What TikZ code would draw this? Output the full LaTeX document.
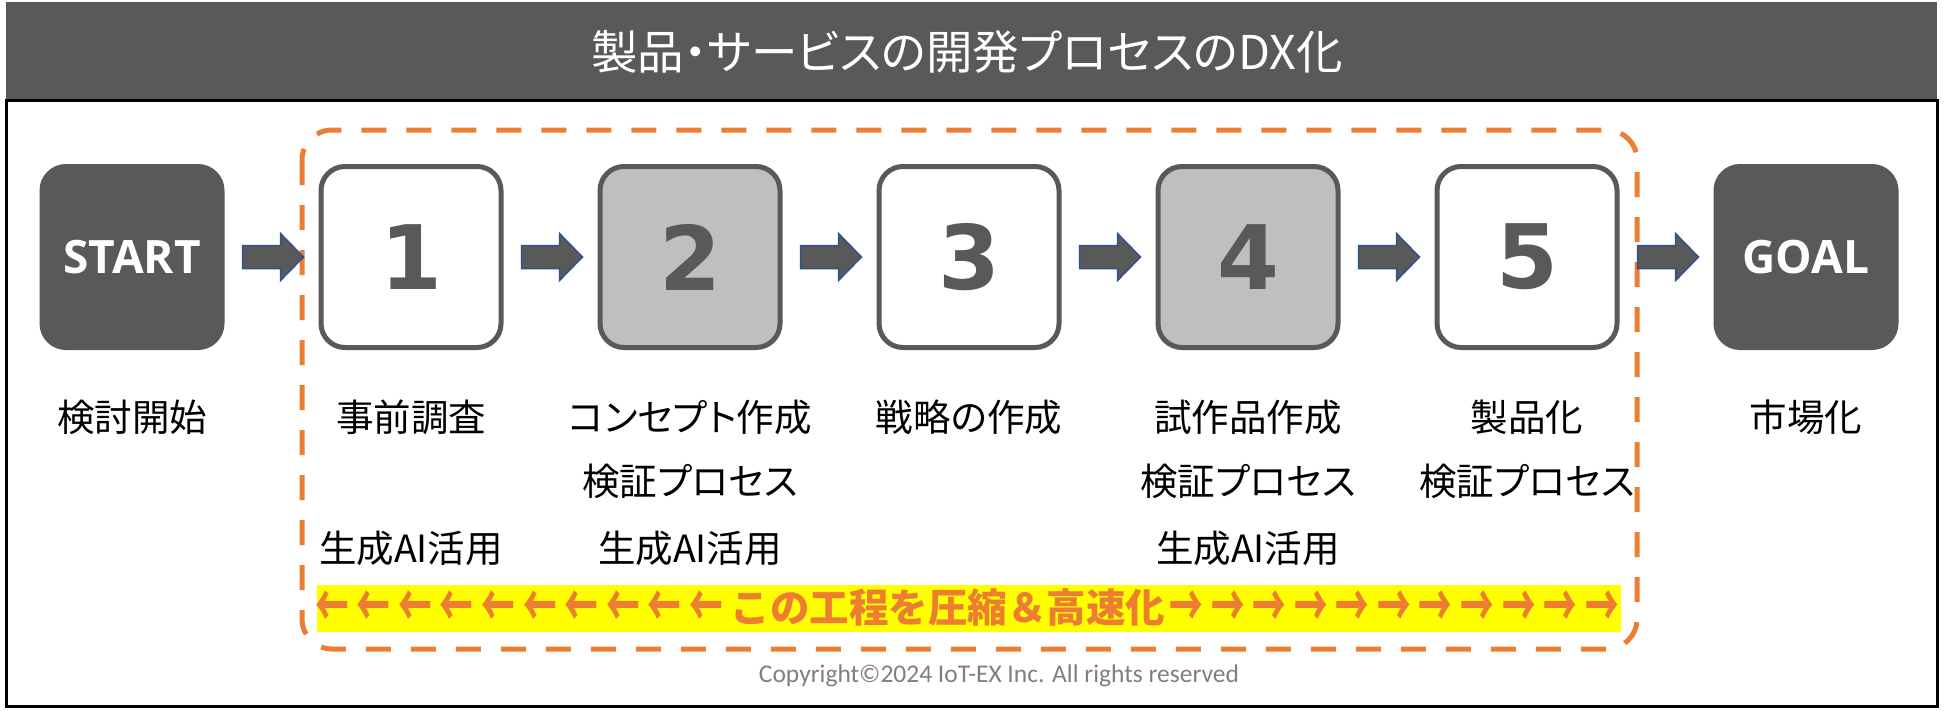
\documentclass[tikz,border=0pt]{standalone}
\usepackage{fontspec}
\usepackage{graphicx}
\setmainfont{Noto Sans CJK JP}
\newfontfamily\jp[RawFeature=+palt]{Noto Sans CJK JP}
\newfontfamily\jpn{Noto Sans CJK JP}
\newfontfamily\osans{Open Sans}
\newfontfamily\dvs{DejaVu Sans}
\newfontfamily\carl{Carlito}
\usetikzlibrary{calc}
\definecolor{dg}{HTML}{595959}
\definecolor{lg}{HTML}{BFBFBF}
\definecolor{og}{HTML}{ED7D31}
\definecolor{yl}{HTML}{FFFF00}
\definecolor{bl}{HTML}{2F528F}
\definecolor{cg}{HTML}{7F7F7F}
\tikzset{
  stepbox/.style={draw=dg, line width=5pt, rounded corners=24pt, minimum width=180pt, minimum height=181pt, inner sep=0pt, text=dg, font=\dvs\bfseries\fontsize{89}{96}\selectfont},
  endbox/.style={stepbox, fill=dg, text=white, font=\osans\bfseries\fontsize{46}{50}\selectfont},
  lbl/.style={inner sep=0pt, text=black, font=\jp\fontsize{37.5}{40}\selectfont},
  fatarrow/.style={fill=dg, draw=bl, line width=1.5pt, line join=miter},
}
\newcommand\fatconnect[2]{%
  \draw[fatarrow] let \p1=($(#1.east)+(18,0)$), \p2=($(#2.west)+(-15,0)$) in
    (\x1,\y1+11.5pt) -- (\x2-23pt,\y1+11.5pt) -- (\x2-23pt,\y1+23.5pt) -- (\x2,\y1)
    -- (\x2-23pt,\y1-23.5pt) -- (\x2-23pt,\y1-11.5pt) -- (\x1,\y1-11.5pt) -- cycle;}
\newcommand\larr{\raisebox{-5pt}{\scalebox{0.85}[1.5]{←}}\kern8pt}
\newcommand\rarr{\kern4pt\raisebox{-5pt}{\scalebox{0.85}[1.5]{→}}\kern4pt}
\begin{document}
\begin{tikzpicture}[x=1pt,y=-1pt]
\useasboundingbox (0,0) rectangle (1950,710);
\fill[white] (0,0) rectangle (1950,710);
% header
\fill[dg] (6,2) rectangle (1937,100);
\node[text=white, font=\jp\fontsize{46.5}{50}\selectfont, inner sep=0pt] (title) at (967,52) {製品・サービスの開発プロセスのDX化};
% frame
\draw[line width=3pt] (6,100) rectangle (1937,706);
% dashed region
\draw[og, line width=5pt, dash pattern=on 25pt off 20pt, rounded corners=30pt] (302,130) rectangle (1637,649);
% boxes
\node[endbox] (start) at (132,257) {START};
\node[stepbox] (b1) at (411,257) {1};
\node[stepbox, fill=lg] (b2) at (690,257) {2};
\node[stepbox] (b3) at (969,257) {3};
\node[stepbox, fill=lg] (b4) at (1248,257) {4};
\node[stepbox] (b5) at (1527,257) {5};
\node[endbox] (goal) at (1806,257) {GOAL};
% arrows
\fatconnect{start}{b1}
\fatconnect{b1}{b2}
\fatconnect{b2}{b3}
\fatconnect{b3}{b4}
\fatconnect{b4}{b5}
\fatconnect{b5}{goal}
% labels row 1
\node[lbl] (t0) at (132,417) {検討開始};
\node[lbl] (t1) at (411,417) {事前調査};
\node[lbl] (t2) at (690,417) {コンセプト作成};
\node[lbl] (t3) at (969,417) {戦略の作成};
\node[lbl] (t4) at (1248,417) {試作品作成};
\node[lbl] (t5) at (1527,417) {製品化};
\node[lbl] (t6) at (1806,417) {市場化};
% row 2
\node[lbl] (v2) at (690,481) {検証プロセス};
\node[lbl] (v4) at (1248,481) {検証プロセス};
\node[lbl] (v5) at (1527,481) {検証プロセス};
% row 3
\node[lbl] (g1) at (411,548) {生成AI活用};
\node[lbl] (g2) at (690,548) {生成AI活用};
\node[lbl] (g4) at (1248,548) {生成AI活用};
% band
\fill[yl] (317,585) rectangle (1621,632);
\node[inner sep=0pt, text=og, font=\jpn\bfseries\fontsize{39.5}{44}\selectfont] (band) at (969,608) {\larr\larr\larr\larr\larr\larr\larr\larr\larr\larr この工程を圧縮＆高速化\rarr\rarr\rarr\rarr\rarr\rarr\rarr\rarr\rarr\rarr\rarr};
% copyright
\node[inner sep=0pt, text=cg, font=\carl\fontsize{25.5}{28}\selectfont] (copy) at (999,676) {Copyright©2024 IoT-EX Inc. All rights reserved};
\end{tikzpicture}
\end{document}
